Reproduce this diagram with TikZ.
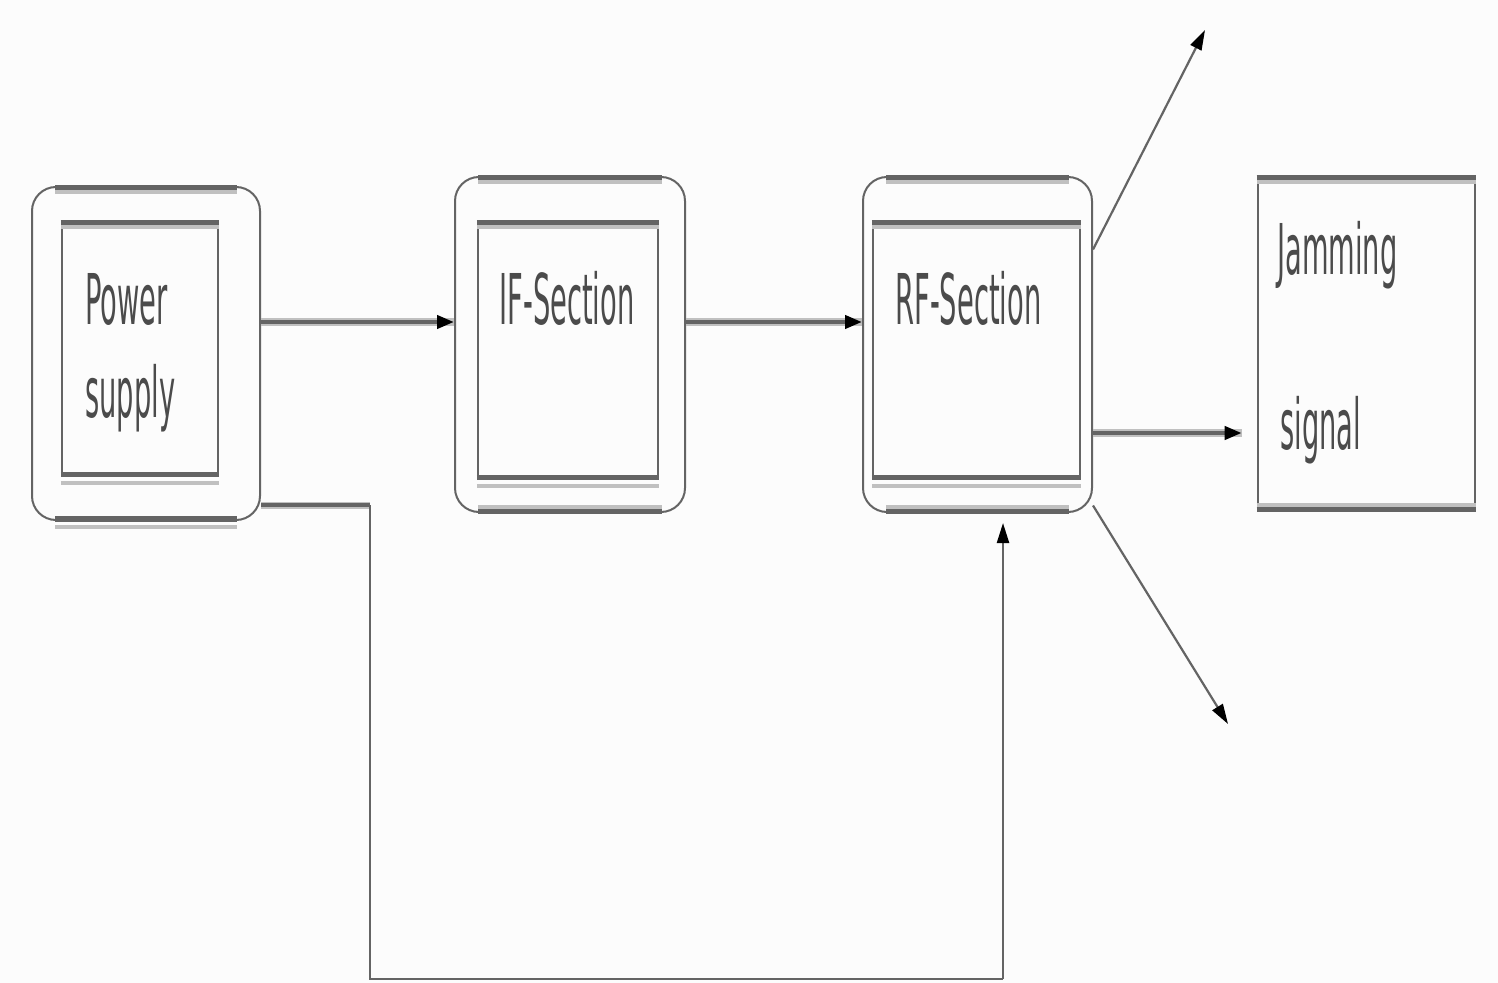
\documentclass[tikz,border=0pt]{standalone}
\usepackage{fontspec}
\usepackage{graphicx}
\setmainfont{DejaVu Sans}
\usetikzlibrary{arrows.meta,calc}
\definecolor{bg}{RGB}{252,252,252}
\definecolor{dk}{RGB}{100,100,100}
\definecolor{lt}{RGB}{192,192,192}
\definecolor{tx}{RGB}{75,75,75}
\newcommand{\lbltxt}[1]{\scalebox{0.39}[1]{\fontsize{35}{40}\selectfont #1}}
\newcommand{\bands}[3]{%
  \draw[dk,line width=2.6pt] ([xshift=#2,yshift=-1pt]#1.north west) -- ([xshift=-#2,yshift=-1pt]#1.north east);
  \draw[lt,line width=2pt] ([xshift=#2,yshift=-3.2pt]#1.north west) -- ([xshift=-#2,yshift=-3.2pt]#1.north east);
  \draw[dk,line width=2.6pt] ([xshift=#2,yshift=1pt]#1.south west) -- ([xshift=-#2,yshift=1pt]#1.south east);
  \draw[lt,line width=2pt] ([xshift=#2,yshift=#3]#1.south west) -- ([xshift=-#2,yshift=#3]#1.south east);
}
\begin{document}
\begin{tikzpicture}[x=0.5pt,y=-0.5pt,
  outerbox/.style={draw=dk, line width=1pt, rounded corners=12pt, inner sep=0pt},
  innerbox/.style={draw=dk, line width=1.2pt, inner sep=0pt},
  plainbox/.style={draw=dk, line width=1.3pt, inner sep=0pt},
  lbl/.style={anchor=base west, inner sep=0pt, text=tx},
  halo/.style={lt, line width=3.6pt},
  mainarrow/.style={dk, line width=2pt, -{Triangle[length=8.5pt,width=6.5pt,color=black]}},
  thickline/.style={dk, line width=2pt},
  thinline/.style={dk, line width=1.1pt},
  thinarrow/.style={dk, line width=1.1pt, -{Triangle[length=10pt,width=6pt,color=black]}}
]
\fill[bg] (0,0) rectangle (1498,983);
\useasboundingbox (0,0) rectangle (1498,983);

% boxes
\node[outerbox, minimum width=114pt, minimum height=166.5pt] (po) at (146,353.5) {};
\node[innerbox, minimum width=78pt, minimum height=126.5pt] (pi) at (140,348.5) {};
\node[outerbox, minimum width=115pt, minimum height=167.5pt] (io) at (570,344.5) {};
\node[innerbox, minimum width=90pt, minimum height=128pt] (ii) at (568,350) {};
\node[outerbox, minimum width=114.5pt, minimum height=167.5pt] (ro) at (977.5,344.5) {};
\node[innerbox, minimum width=103.5pt, minimum height=128pt] (ri) at (976.5,350) {};
\node[plainbox, minimum width=108.5pt, minimum height=166.5pt] (jm) at (1366.5,343.5) {};

\bands{po}{12pt}{-3.2pt}
\bands{pi}{0pt}{-3.2pt}
\bands{io}{12pt}{3.2pt}
\bands{ii}{0pt}{-3.2pt}
\bands{ro}{12pt}{3.2pt}
\bands{ri}{0pt}{-3.2pt}
\bands{jm}{0pt}{3.2pt}

% labels
\node[lbl] (t1) at (85,325) {\lbltxt{Power}};
\node[lbl] (t2) at (85,418) {\lbltxt{supply}};
\node[lbl] (t3) at (499,325) {\lbltxt{IF-Section}};
\node[lbl] (t4) at (895,325) {\lbltxt{RF-Section}};
\node[lbl] (t5) at (1277,275) {\lbltxt{Jamming}};
\node[lbl] (t6) at (1280,450) {\lbltxt{signal}};

% coordinates
\coordinate (a1) at ($(po.east)+(0,-31.5)$);
\coordinate (a2) at ($(io.east)+(0,-22.5)$);
\coordinate (a3) at ($(ro.east)+(0,88.5)$);
\coordinate (u0) at ($(ro.east)+(0,-95)$);
\coordinate (d0) at ($(ro.east)+(0,161)$);
\coordinate (uT) at (1205,30);
\coordinate (dT) at (1228,724);
\coordinate (f0) at ($(po.east)+(0,152)$);
\coordinate (f1) at (370,505.5);
\coordinate (f2) at (370,979);
\coordinate (f3) at (1003,979);

% main arrows
\draw[halo] (a1) -- (io.west |- a1);
\draw[mainarrow] (a1) -- (io.west |- a1);
\draw[halo] (a2) -- (ro.west |- a2);
\draw[mainarrow] (a2) -- (ro.west |- a2);
\draw[halo] (a3) -- ([xshift=-7.5pt]jm.west |- a3);
\draw[mainarrow] (a3) -- ([xshift=-7.5pt]jm.west |- a3);

% diagonal outputs
\draw[thinarrow] (u0) -- (uT);
\draw[thinarrow] (d0) -- (dT);

% feedback
\draw[lt, line width=3.4pt] (f0) -- (f1);
\draw[thickline] (f0) -- (f1);
\draw[thinline] (f1) -- (f2) -- (f3);
\draw[thinarrow, shorten >=5pt] (f3) -- (ro.south -| f3);
\end{tikzpicture}
\end{document}
